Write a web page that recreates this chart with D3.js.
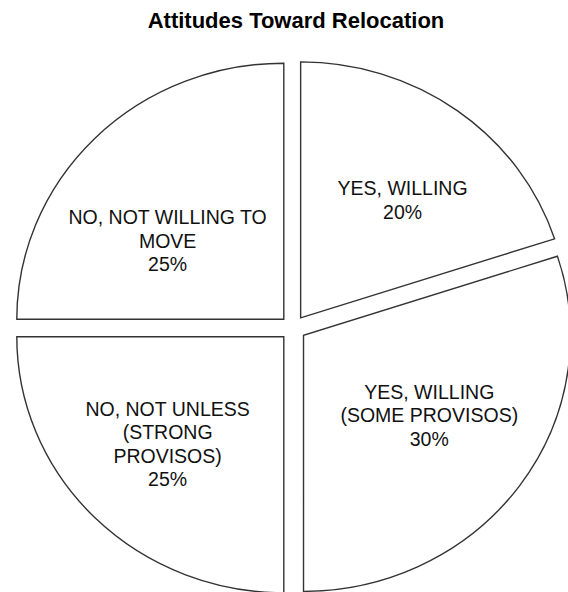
<!DOCTYPE html>
<html>
<head>
<meta charset="utf-8">
<script src="https://cdn.jsdelivr.net/npm/d3@7"></script>
<style>
  html, body { margin: 0; padding: 0; background: #fff; }
  svg { display: block; }
</style>
</head>
<body>
<script>
// ---- data ----
const title = "Attitudes Toward Relocation";
const categories = [
  "YES, WILLING",
  "YES, WILLING\n(SOME PROVISOS)",
  "NO, NOT UNLESS\n(STRONG\nPROVISOS)",
  "NO, NOT WILLING TO\nMOVE"
];
const values = [20, 30, 25, 25];
const percentLabels = ["20%", "30%", "25%", "25%"];

// ---- layout ----
const W = 568, H = 592;
const cx = 293, cy = 328;
const rx = 267, ry = 256;
const explode = 13;
const labelR = 153;
const fontSize = 19.5, lineH = 23.5;
// per-slice label nudges [dx, dy] in px
const nudges = [[12, 1], [2, -6], [-8, 4], [-8, 26]];

const svg = d3.select("body").append("svg")
  .attr("width", W).attr("height", H)
  .attr("font-family", "'Liberation Sans', Arial, sans-serif");

svg.append("text")
  .attr("x", 296).attr("y", 28)
  .attr("text-anchor", "middle")
  .attr("font-size", 22)
  .attr("font-weight", "bold")
  .attr("fill", "#000")
  .text(title);

const pie = d3.pie().sort(null).value(d => d)(values);
const arc = d3.arc().innerRadius(0).outerRadius(rx);
const labelArc = d3.arc().innerRadius(labelR).outerRadius(labelR);

const g = svg.append("g")
  .attr("transform", `translate(${cx},${cy}) scale(1,${ry / rx})`);

const slices = g.selectAll("g.slice").data(pie).enter().append("g")
  .attr("class", "slice")
  .attr("transform", d => {
    const a = (d.startAngle + d.endAngle) / 2;
    return `translate(${explode * Math.sin(a)},${-explode * Math.cos(a)})`;
  });

slices.append("path")
  .attr("d", arc)
  .attr("fill", "#fff")
  .attr("stroke", "#333")
  .attr("stroke-width", 1.4)
  .attr("stroke-linejoin", "miter")
  .attr("vector-effect", "non-scaling-stroke");

// labels
const lg = svg.append("g");
pie.forEach((d, i) => {
  const a = (d.startAngle + d.endAngle) / 2;
  const c = labelArc.centroid(d);
  const x = cx + c[0] + explode * Math.sin(a) + nudges[i][0];
  const y = cy + (c[1] - explode * Math.cos(a)) * ry / rx + nudges[i][1];
  const lines = categories[i].split("\n").concat([percentLabels[i]]);
  const n = lines.length;
  const t = lg.append("text")
    .attr("text-anchor", "middle")
    .attr("font-size", fontSize)
    .attr("fill", "#111");
  lines.forEach((s, j) => {
    t.append("tspan")
      .attr("x", x)
      .attr("y", y - (n - 1) * 24 / 2 + fontSize * 0.36 + j * lineH)
      .text(s);
  });
});
</script>
</body>
</html>
